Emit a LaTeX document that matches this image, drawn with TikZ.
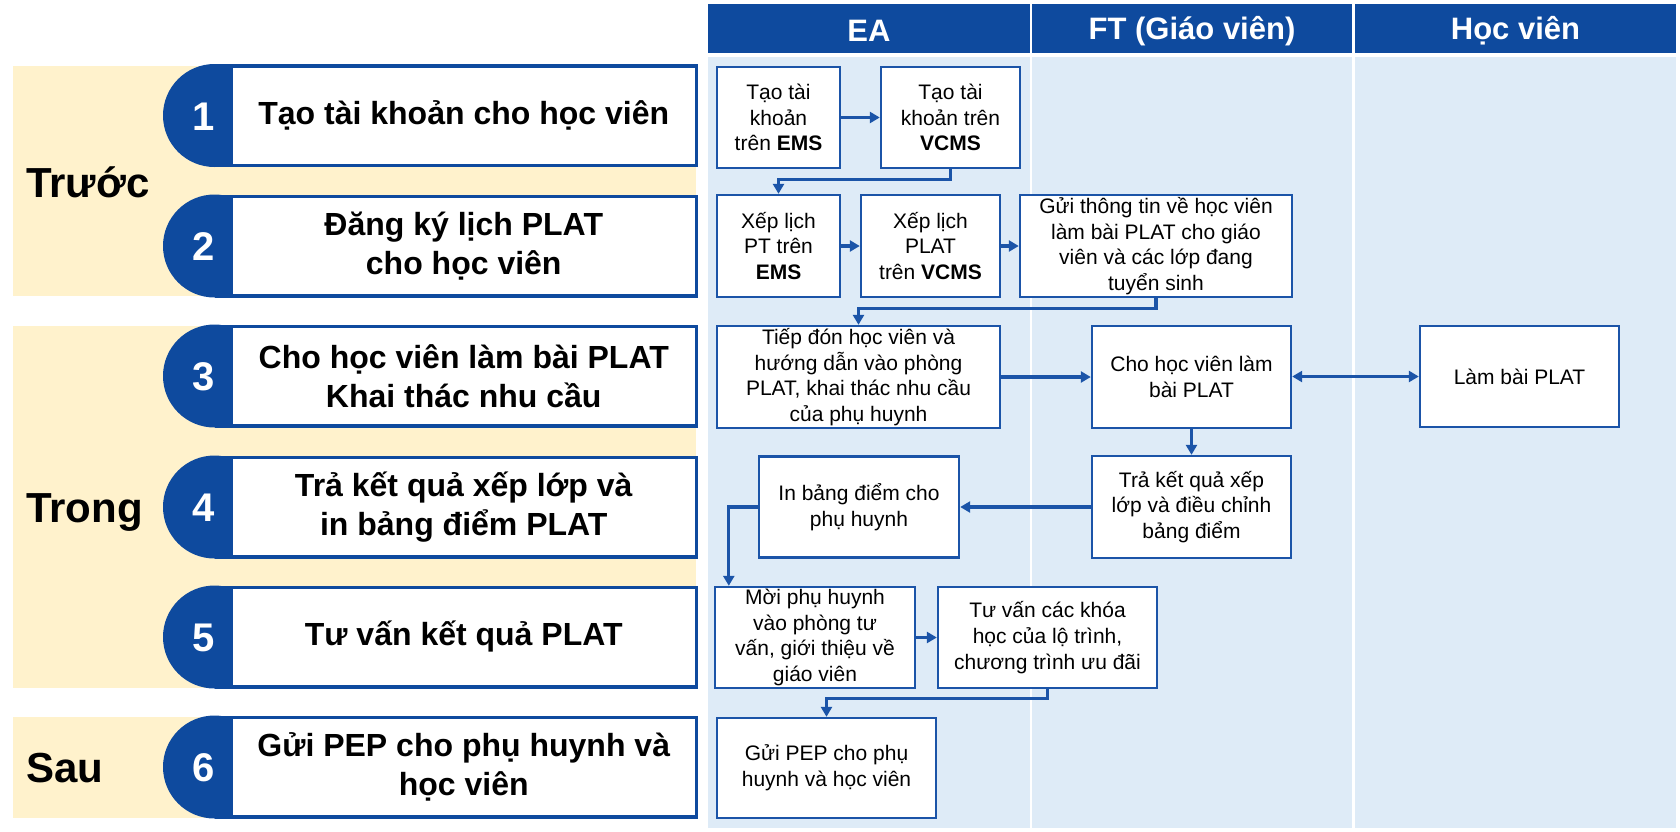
\documentclass[tikz,border=0pt]{standalone}
\usepackage{fontspec}
\setmainfont{Liberation Sans}
\usetikzlibrary{arrows.meta}

\definecolor{hdrblue}{RGB}{14,74,158}
\definecolor{linkblue}{RGB}{27,84,168}
\definecolor{lanebg}{RGB}{222,235,247}
\definecolor{phasebg}{RGB}{255,242,204}

% one numbered phase pill: #1 name, #2 centre y, #3 number, #4 text
\newcommand\phasepill[4]{%
  \fill[hdrblue] (214.5,#2) circle[radius=51.5pt];
  \fill[hdrblue] (214.5,{#2-51.5}) rectangle (698,{#2+51.5});
  \node[numlabel] (N#1) at (204,{#2+1}) {#3};
  \node[pillbox] (#1) at (463.75,#2) {#4};
}

\begin{document}
\begin{tikzpicture}[x=1pt,y=-1pt,
  lanehead/.style={fill=hdrblue, text=white, inner sep=0pt,
    font=\fontsize{31}{36}\selectfont\bfseries, minimum height=49pt},
  pillbox/.style={fill=white, inner sep=0pt, align=center,
    minimum width=461.5pt, minimum height=96pt,
    font=\fontsize{32}{39}\selectfont\bfseries},
  numlabel/.style={text=white, inner sep=0pt, font=\fontsize{40}{40}\selectfont\bfseries},
  phaselabel/.style={inner sep=0pt, anchor=base west, font=\fontsize{42}{42}\selectfont\bfseries},
  stepbox/.style={draw=linkblue, line width=2.4pt, fill=white, inner sep=0pt,
    align=center, font=\fontsize{21}{25.7}\selectfont},
  arr/.style={draw=linkblue, line width=3.3pt, -{Triangle[length=10pt,width=11pt]}},
  dblarr/.style={draw=linkblue, line width=3.3pt,
    arrows={Triangle[length=10pt,width=11pt]-Triangle[length=10pt,width=11pt]}},
]
\useasboundingbox (0,0) rectangle (1680,831);
\fill[white] (0,0) rectangle (1680,831);

% phase bands
\fill[phasebg] (13,66) rectangle (696,296);
\fill[phasebg] (13,326) rectangle (696,688);
\fill[phasebg] (13,717) rectangle (696,818);
\node[phaselabel] (Ltruoc) at (26,197) {Trước};
\node[phaselabel] (Ltrong) at (26,522) {Trong};
\node[phaselabel] (Lsau) at (26,782) {Sau};

% numbered steps
\phasepill{P1}{115.5}{1}{Tạo tài khoản cho học viên}
\phasepill{P2}{246}{2}{Đăng ký lịch PLAT\\cho học viên}
\phasepill{P3}{376}{3}{Cho học viên làm bài PLAT\\Khai thác nhu cầu}
\phasepill{P4}{507}{4}{Trả kết quả xếp lớp và\\in bảng điểm PLAT}
\phasepill{P5}{637}{5}{Tư vấn kết quả PLAT}
\phasepill{P6}{767}{6}{Gửi PEP cho phụ huynh và\\học viên}

% swimlanes
\fill[lanebg] (708,57) rectangle (1030,828);
\fill[lanebg] (1032,57) rectangle (1352,828);
\fill[lanebg] (1355,57) rectangle (1676,828);
\fill[hdrblue] (708,4) rectangle (1030,53);
\fill[hdrblue] (1032,4) rectangle (1352,53);
\fill[hdrblue] (1355,4) rectangle (1676,53);
\node[lanehead, fill=none, minimum width=322pt] (HEA) at (869,31) {EA};
\node[lanehead, fill=none, minimum width=320pt] (HFT) at (1192,31) {FT (Giáo viên)};
\node[lanehead, fill=none, minimum width=321pt] (HHV) at (1515.5,31) {Học viên};

% process steps
\node[stepbox, minimum width=123pt, minimum height=101pt] (B1) at (778.5,117.5)
  {Tạo tài\\khoản\\trên \textbf{EMS}};
\node[stepbox, minimum width=139pt, minimum height=101pt] (B2) at (950.5,117.5)
  {Tạo tài\\khoản trên\\\textbf{VCMS}};
\node[stepbox, minimum width=123pt, minimum height=102pt] (B3) at (778.5,246)
  {Xếp lịch\\PT trên\\\textbf{EMS}};
\node[stepbox, minimum width=139pt, minimum height=102pt] (B4) at (930.5,246)
  {Xếp lịch\\PLAT\\trên \textbf{VCMS}};
\node[stepbox, minimum width=272pt, minimum height=102pt] (B5) at (1156,246)
  {Gửi thông tin về học viên\\làm bài PLAT cho giáo\\viên và các lớp đang\\tuyển sinh};
\node[stepbox, minimum width=283pt, minimum height=102pt] (B6) at (858.5,377)
  {Tiếp đón học viên và\\hướng dẫn vào phòng\\PLAT, khai thác nhu cầu\\của phụ huynh};
\node[stepbox, minimum width=199pt, minimum height=102pt] (B7) at (1191.5,377)
  {Cho học viên làm\\bài PLAT};
\node[stepbox, minimum width=199pt, minimum height=101pt] (B8) at (1519.5,376.5)
  {Làm bài PLAT};
\node[stepbox, minimum width=199pt, minimum height=102pt] (B9) at (1191.5,507)
  {Trả kết quả xếp\\lớp và điều chỉnh\\bảng điểm};
\node[stepbox, minimum width=200pt, minimum height=101pt] (B10) at (859,507)
  {In bảng điểm cho\\phụ huynh};
\node[stepbox, minimum width=200pt, minimum height=101pt] (B11) at (815,637.5)
  {Mời phụ huynh\\vào phòng tư\\vấn, giới thiệu về\\giáo viên};
\node[stepbox, minimum width=219pt, minimum height=101pt] (B12) at (1047.5,637.5)
  {Tư vấn các khóa\\học của lộ trình,\\chương trình ưu đãi};
\node[stepbox, minimum width=219pt, minimum height=100pt] (B13) at (826.5,768)
  {Gửi PEP cho phụ\\huynh và học viên};

% flow
\draw[arr] (B1) -- (B2);
\draw[arr] (B2.south) -- ++(0,10) -| (B3.north);
\draw[arr] (B3) -- (B4);
\draw[arr] (B4) -- (B5);
\draw[arr] (B5.south) -- ++(0,10) -| (B6.north);
\draw[arr] (B6.east) -- (B6.east -| B7.west);
\draw[dblarr] (B7.east |- B8.west) -- (B8.west);
\draw[arr] (B7) -- (B9);
\draw[arr] (B9) -- (B10);
\draw[arr] (B10.west) -| ([xshift=15pt]B11.north west);
\draw[arr] (B11) -- (B12);
\draw[arr] (B12.south) -- ++(0,9) -| (B13.north);
\end{tikzpicture}
\end{document}
